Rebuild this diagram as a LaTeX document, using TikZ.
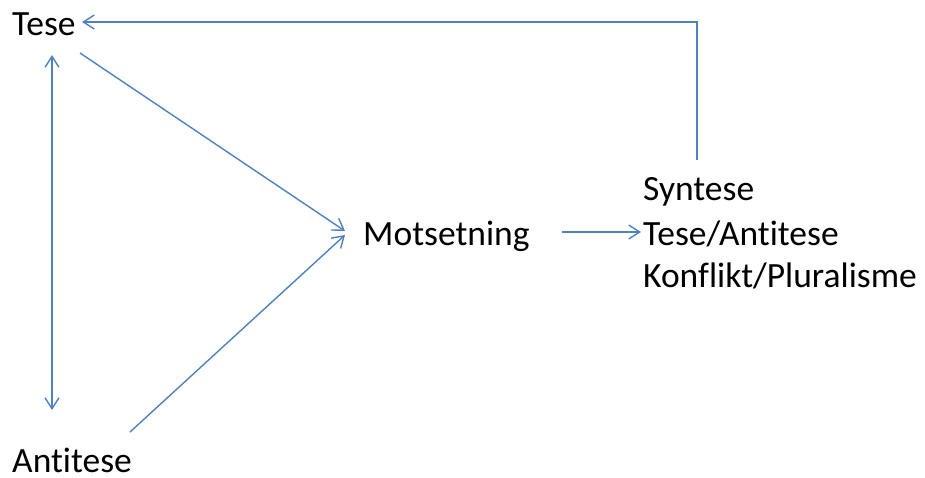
\documentclass[tikz,border=0pt]{standalone}
\usepackage{fontspec}
\setmainfont{Carlito}[Ligatures=NoCommon]
\usetikzlibrary{arrows.meta}
\definecolor{lineblue}{HTML}{4F81BD}
\tikzset{
  lbl/.style={anchor=base west, inner sep=0pt, font=\fontsize{35.5}{42}\selectfont, text=black},
  tip/.tip={Straight Barb[length=11pt,width=14pt,line width=1.4pt]},
  conn/.style={draw=lineblue, line width=1.4pt, -tip},
}
\begin{document}
\begin{tikzpicture}[x=1pt,y=-1pt]
\useasboundingbox (0,0) rectangle (925,477);
\node[lbl] (tese) at (12,35) {Tese};
\node[lbl] (anti) at (12,472) {Antitese};
\node[lbl] (mot) at (363,245) {Motsetning};
\node[lbl] (syn1) at (643,200) {Syntese};
\node[lbl] (syn2) at (643,245) {Tese/Antitese};
\node[lbl] (syn3) at (643,287) {Konflikt/Pluralisme};
\coordinate (synTop) at (697,160);
\coordinate (corner) at (697,22);
\coordinate (teseIn) at (82,22);
\coordinate (vTop) at (52,55);
\coordinate (vBot) at (52,410);
\coordinate (teseOut) at (80,53);
\coordinate (antiOut) at (130,432);
\coordinate (motIn1) at (345,231);
\coordinate (motIn2) at (345,235);
\coordinate (motOut) at (562,232);
\coordinate (synIn) at (641,232);
\draw[conn] (synTop) -- (corner) -- (teseIn);
\draw[conn, tip-tip] (vTop) -- (vBot);
\draw[conn] (teseOut) -- (motIn1);
\draw[conn] (antiOut) -- (motIn2);
\draw[conn] (motOut) -- (synIn);
\end{tikzpicture}
\end{document}
